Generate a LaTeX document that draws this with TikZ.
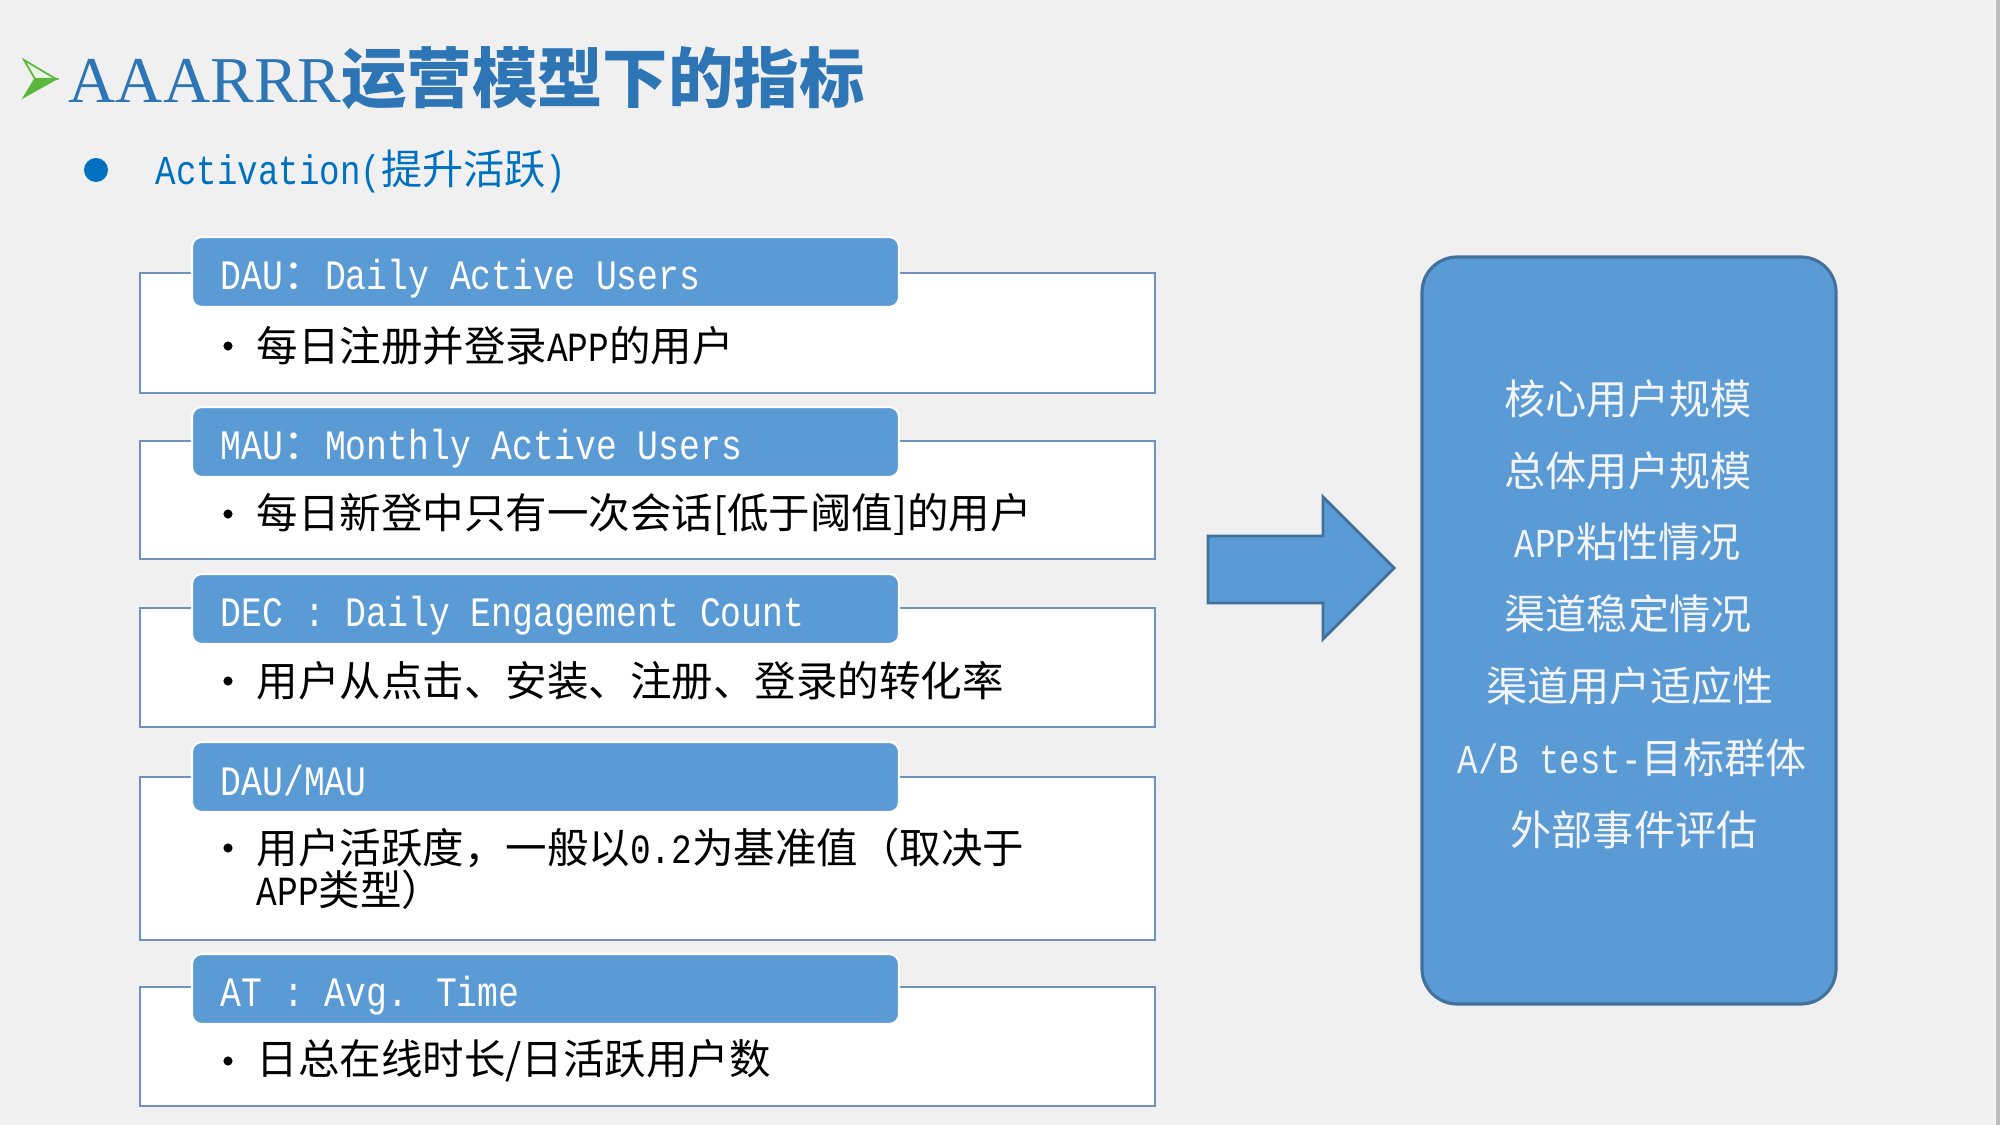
\documentclass[tikz,border=0pt]{standalone}
\usepackage{fontspec}
\setmainfont{Liberation Serif}
\newfontfamily\cjk{Noto Sans CJK SC}
\newfontfamily\monof[FakeStretch=0.83]{Liberation Mono}
\definecolor{bg}{HTML}{F0F0F0}
\definecolor{hdrblue}{HTML}{5B9BD5}
\definecolor{boxline}{HTML}{6E93C0}
\definecolor{darkline}{HTML}{41719C}
\definecolor{titleblue}{HTML}{2E75B6}
\definecolor{subblue}{HTML}{0070C0}
\definecolor{rtextcol}{HTML}{F2F4F8}
\definecolor{arrgreen}{HTML}{5CB83C}
\definecolor{arrlight}{HTML}{EAF5E4}
\begin{document}
\begin{tikzpicture}[x=0.01cm,y=-0.01cm,
  outerbox/.style={draw=boxline, line width=0.75pt, fill=white},
  hdrbox/.style={fill=hdrblue, draw=white, line width=0.6pt, rounded corners=2.8pt},
  hdrtext/.style={anchor=base west, inner sep=0pt, text=white, font=\monof\fontsize{11.9}{12}\selectfont},
  bodytext/.style={anchor=west, inner sep=0pt, text=black, font=\cjk\fontsize{11.8}{11.8}\selectfont, align=left},
  bulletdot/.style={circle, fill=black, inner sep=0pt, minimum size=2.6pt},
  rtext/.style={text=rtextcol, font=\cjk\fontsize{11.7}{12}\selectfont, inner sep=0pt}
]
\useasboundingbox (0,0) rectangle (2000,1125);
\fill[bg] (0,0) rectangle (2000,1125);
\fill[white!96!black] (1994,0) rectangle (1996,1125);
\fill[black!25] (1996,0) rectangle (2000,1125);

% title marker
\filldraw[fill=arrlight, draw=arrgreen, line width=0.5pt] (24,60) -- (56,79) -- (35,79) -- cycle;
\filldraw[fill=arrgreen, draw=arrgreen, line width=0.5pt] (35,79) -- (56,79) -- (24,97) -- cycle;
\node[anchor=base west, inner sep=0pt, text=titleblue, font=\fontsize{18.6}{20}\selectfont] (title) at (68,103)
  {AAARRR{\cjk\bfseries 运营模型下的指标}};

% subtitle
\fill[subblue] (96,170) circle (12);
\node[anchor=base west, inner sep=0pt, text=subblue, font=\monof\fontsize{11.7}{12}\selectfont] (sub) at (155,185)
  {Activation({\cjk 提升活跃})};

% box 1
\draw[outerbox] (140,273) rectangle (1155,393);
\draw[hdrbox] (192,237) rectangle (899,307);
\node[hdrtext] (h1) at (220,290) {DAU{\cjk ：}Daily Active Users};
\node[bulletdot] (d1) at (228,346) {};
\node[bodytext] (b1) at (256,346) {每日注册并登录{\monof APP}的用户};

% box 2
\draw[outerbox] (140,441) rectangle (1155,559);
\draw[hdrbox] (192,407) rectangle (899,477);
\node[hdrtext] (h2) at (220,460) {MAU{\cjk ：}Monthly Active Users};
\node[bulletdot] (d2) at (228,514) {};
\node[bodytext] (b2) at (256,514) {每日新登中只有一次会话[低于阈值]的用户};

% box 3
\draw[outerbox] (140,608) rectangle (1155,727);
\draw[hdrbox] (192,574) rectangle (899,644);
\node[hdrtext] (h3) at (220,627) {DEC : Daily Engagement Count};
\node[bulletdot] (d3) at (228,681) {};
\node[bodytext] (b3) at (256,681) {用户从点击、安装、注册、登录的转化率};

% box 4
\draw[outerbox] (140,777) rectangle (1155,940);
\draw[hdrbox] (192,742) rectangle (899,812);
\node[hdrtext] (h4) at (220,795) {DAU/MAU};
\node[bulletdot] (d4) at (228,848) {};
\node[bodytext] (b4) at (256,868.5) {用户活跃度，一般以{\monof 0.2}为基准值（取决于\\{\monof APP}类型）};

% box 5
\draw[outerbox] (140,987) rectangle (1155,1106);
\draw[hdrbox] (192,954) rectangle (899,1024);
\node[hdrtext] (h5) at (220,1006) {AT : Avg. Time};
\node[bulletdot] (d5) at (228,1061) {};
\node[bodytext] (b5) at (256,1061) {日总在线时长/日活跃用户数};

% block arrow
\filldraw[fill=hdrblue, draw=darkline, line width=0.8pt]
  (1208,536) -- (1323,536) -- (1323,497) -- (1394,568) -- (1323,639) -- (1323,603) -- (1208,603) -- cycle;

% right box
\filldraw[fill=hdrblue, draw=darkline, line width=0.9pt, rounded corners=10pt] (1422,257) rectangle (1836,1004);
\node[rtext] (r1) at (1628,399) {核心用户规模};
\node[rtext] (r2) at (1628,471) {总体用户规模};
\node[rtext] (r3) at (1628,542) {{\monof APP}粘性情况};
\node[rtext] (r4) at (1628,614) {渠道稳定情况};
\node[rtext] (r5) at (1630,686) {渠道用户适应性};
\node[rtext] (r6) at (1632,758) {{\monof A/B test-}目标群体};
\node[rtext] (r7) at (1634,830) {外部事件评估};
\end{tikzpicture}
\end{document}
